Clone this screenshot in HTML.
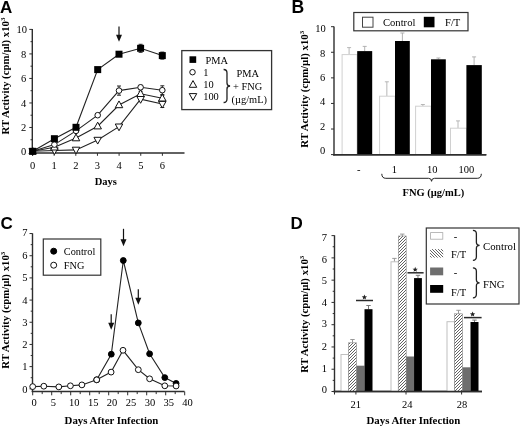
<!DOCTYPE html>
<html><head><meta charset="utf-8"><style>
html,body{margin:0;padding:0;background:#fff;width:520px;height:427px;overflow:hidden;}
svg{display:block;filter:blur(0.35px);}
</style></head><body>
<svg width="520" height="427" viewBox="0 0 520 427">
<rect width="520" height="427" fill="#fff"/>
<text x="0" y="12.5" font-size="17" text-anchor="start" font-family="Liberation Sans, sans-serif" font-weight="bold" >A</text>
<line x1="32.3" y1="29.0" x2="32.3" y2="153.8" stroke="#2e2e2e" stroke-width="1.4"/>
<line x1="29.299999999999997" y1="152.0" x2="32.3" y2="152.0" stroke="#2e2e2e" stroke-width="1"/>
<line x1="30.499999999999996" y1="139.74" x2="32.3" y2="139.74" stroke="#2e2e2e" stroke-width="1"/>
<line x1="29.299999999999997" y1="127.48" x2="32.3" y2="127.48" stroke="#2e2e2e" stroke-width="1"/>
<line x1="30.499999999999996" y1="115.22" x2="32.3" y2="115.22" stroke="#2e2e2e" stroke-width="1"/>
<line x1="29.299999999999997" y1="102.96000000000001" x2="32.3" y2="102.96000000000001" stroke="#2e2e2e" stroke-width="1"/>
<line x1="30.499999999999996" y1="90.7" x2="32.3" y2="90.7" stroke="#2e2e2e" stroke-width="1"/>
<line x1="29.299999999999997" y1="78.44" x2="32.3" y2="78.44" stroke="#2e2e2e" stroke-width="1"/>
<line x1="30.499999999999996" y1="66.18" x2="32.3" y2="66.18" stroke="#2e2e2e" stroke-width="1"/>
<line x1="29.299999999999997" y1="53.92" x2="32.3" y2="53.92" stroke="#2e2e2e" stroke-width="1"/>
<line x1="30.499999999999996" y1="41.66" x2="32.3" y2="41.66" stroke="#2e2e2e" stroke-width="1"/>
<line x1="29.299999999999997" y1="29.400000000000006" x2="32.3" y2="29.400000000000006" stroke="#2e2e2e" stroke-width="1"/>
<text x="27.0" y="33.0" font-size="10.5" text-anchor="end" font-family="Liberation Serif, serif" >10</text>
<text x="26.2" y="57.800000000000004" font-size="10.5" text-anchor="end" font-family="Liberation Serif, serif" >8</text>
<text x="26.2" y="82.3" font-size="10.5" text-anchor="end" font-family="Liberation Serif, serif" >6</text>
<text x="26.2" y="106.69999999999999" font-size="10.5" text-anchor="end" font-family="Liberation Serif, serif" >4</text>
<text x="26.2" y="130.8" font-size="10.5" text-anchor="end" font-family="Liberation Serif, serif" >2</text>
<text x="26.2" y="155.2" font-size="10.5" text-anchor="end" font-family="Liberation Serif, serif" >0</text>
<line x1="31.499999999999996" y1="153.0" x2="184.5" y2="153.0" stroke="#2e2e2e" stroke-width="1.4"/>
<line x1="32.5" y1="153" x2="32.5" y2="155.8" stroke="#2e2e2e" stroke-width="1"/>
<text x="32.5" y="169.1" font-size="10.5" text-anchor="middle" font-family="Liberation Serif, serif" >0</text>
<line x1="54.15" y1="153" x2="54.15" y2="155.8" stroke="#2e2e2e" stroke-width="1"/>
<text x="54.15" y="169.1" font-size="10.5" text-anchor="middle" font-family="Liberation Serif, serif" >1</text>
<line x1="75.8" y1="153" x2="75.8" y2="155.8" stroke="#2e2e2e" stroke-width="1"/>
<text x="75.8" y="169.1" font-size="10.5" text-anchor="middle" font-family="Liberation Serif, serif" >2</text>
<line x1="97.44999999999999" y1="153" x2="97.44999999999999" y2="155.8" stroke="#2e2e2e" stroke-width="1"/>
<text x="97.44999999999999" y="169.1" font-size="10.5" text-anchor="middle" font-family="Liberation Serif, serif" >3</text>
<line x1="119.1" y1="153" x2="119.1" y2="155.8" stroke="#2e2e2e" stroke-width="1"/>
<text x="119.1" y="169.1" font-size="10.5" text-anchor="middle" font-family="Liberation Serif, serif" >4</text>
<line x1="140.75" y1="153" x2="140.75" y2="155.8" stroke="#2e2e2e" stroke-width="1"/>
<text x="140.75" y="169.1" font-size="10.5" text-anchor="middle" font-family="Liberation Serif, serif" >5</text>
<line x1="162.39999999999998" y1="153" x2="162.39999999999998" y2="155.8" stroke="#2e2e2e" stroke-width="1"/>
<text x="162.39999999999998" y="169.1" font-size="10.5" text-anchor="middle" font-family="Liberation Serif, serif" >6</text>
<text x="105.8" y="184.8" font-size="10.5" text-anchor="middle" font-family="Liberation Serif, serif" font-weight="bold" >Days</text>
<text x="0" y="0" transform="translate(8.6,76) rotate(-90)" font-size="10.75" text-anchor="middle" font-family="Liberation Serif, serif" font-weight="bold">RT Activity (cpm/µl) x10<tspan dy="-4" font-size="7">3</tspan></text>
<polyline points="32.7,151.3 54.4,150.5 76,149.9 97.7,140 119,126.7 140.6,99.2 162.3,104" fill="none" stroke="#222" stroke-width="1.1"/>
<polyline points="32.7,151.3 54.4,147.3 76,138.1 97.7,126.2 119,105 140.6,93.8 162.3,98.3" fill="none" stroke="#222" stroke-width="1.1"/>
<polyline points="32.7,151.3 54.4,144.6 76,130.9 97.7,115.2 119,90.6 140.6,87.3 162.3,90.2" fill="none" stroke="#222" stroke-width="1.1"/>
<polyline points="32.7,151.3 54.4,138.7 76,127.3 97.7,69.6 119,54.2 140.6,48.3 162.3,55.6" fill="none" stroke="#222" stroke-width="1.1"/>
<line x1="140.6" y1="44.3" x2="140.6" y2="52.3" stroke="#222" stroke-width="1"/>
<line x1="138.6" y1="44.3" x2="142.6" y2="44.3" stroke="#222" stroke-width="1"/>
<line x1="138.6" y1="52.3" x2="142.6" y2="52.3" stroke="#222" stroke-width="1"/>
<line x1="162.3" y1="52.1" x2="162.3" y2="59.1" stroke="#222" stroke-width="1"/>
<line x1="160.3" y1="52.1" x2="164.3" y2="52.1" stroke="#222" stroke-width="1"/>
<line x1="160.3" y1="59.1" x2="164.3" y2="59.1" stroke="#222" stroke-width="1"/>
<line x1="119" y1="86.0" x2="119" y2="95.19999999999999" stroke="#222" stroke-width="1"/>
<line x1="117" y1="86.0" x2="121" y2="86.0" stroke="#222" stroke-width="1"/>
<line x1="117" y1="95.19999999999999" x2="121" y2="95.19999999999999" stroke="#222" stroke-width="1"/>
<line x1="162.3" y1="85.8" x2="162.3" y2="94.60000000000001" stroke="#222" stroke-width="1"/>
<line x1="160.3" y1="85.8" x2="164.3" y2="85.8" stroke="#222" stroke-width="1"/>
<line x1="160.3" y1="94.60000000000001" x2="164.3" y2="94.60000000000001" stroke="#222" stroke-width="1"/>
<line x1="140.6" y1="85.3" x2="140.6" y2="89.3" stroke="#222" stroke-width="1"/>
<line x1="138.6" y1="85.3" x2="142.6" y2="85.3" stroke="#222" stroke-width="1"/>
<line x1="138.6" y1="89.3" x2="142.6" y2="89.3" stroke="#222" stroke-width="1"/>
<line x1="162.3" y1="95.3" x2="162.3" y2="101.3" stroke="#222" stroke-width="1"/>
<line x1="160.3" y1="95.3" x2="164.3" y2="95.3" stroke="#222" stroke-width="1"/>
<line x1="160.3" y1="101.3" x2="164.3" y2="101.3" stroke="#222" stroke-width="1"/>
<line x1="162.3" y1="100.5" x2="162.3" y2="107.5" stroke="#222" stroke-width="1"/>
<line x1="160.3" y1="100.5" x2="164.3" y2="100.5" stroke="#222" stroke-width="1"/>
<line x1="160.3" y1="107.5" x2="164.3" y2="107.5" stroke="#222" stroke-width="1"/>
<line x1="140.6" y1="91.3" x2="140.6" y2="96.3" stroke="#222" stroke-width="1"/>
<line x1="138.6" y1="91.3" x2="142.6" y2="91.3" stroke="#222" stroke-width="1"/>
<line x1="138.6" y1="96.3" x2="142.6" y2="96.3" stroke="#222" stroke-width="1"/>
<polygon points="32.70,155.35 28.95,148.60 36.45,148.60" fill="#fff" stroke="#111" stroke-width="1" stroke-linejoin="miter"/>
<polygon points="54.40,154.55 50.65,147.80 58.15,147.80" fill="#fff" stroke="#111" stroke-width="1" stroke-linejoin="miter"/>
<polygon points="76.00,153.95 72.25,147.20 79.75,147.20" fill="#fff" stroke="#111" stroke-width="1" stroke-linejoin="miter"/>
<polygon points="97.70,144.05 93.95,137.30 101.45,137.30" fill="#fff" stroke="#111" stroke-width="1" stroke-linejoin="miter"/>
<polygon points="119.00,130.75 115.25,124.00 122.75,124.00" fill="#fff" stroke="#111" stroke-width="1" stroke-linejoin="miter"/>
<polygon points="140.60,103.25 136.85,96.50 144.35,96.50" fill="#fff" stroke="#111" stroke-width="1" stroke-linejoin="miter"/>
<polygon points="162.30,108.05 158.55,101.30 166.05,101.30" fill="#fff" stroke="#111" stroke-width="1" stroke-linejoin="miter"/>
<polygon points="32.70,147.25 28.95,154.00 36.45,154.00" fill="#fff" stroke="#111" stroke-width="1" stroke-linejoin="miter"/>
<polygon points="54.40,143.25 50.65,150.00 58.15,150.00" fill="#fff" stroke="#111" stroke-width="1" stroke-linejoin="miter"/>
<polygon points="76.00,134.05 72.25,140.80 79.75,140.80" fill="#fff" stroke="#111" stroke-width="1" stroke-linejoin="miter"/>
<polygon points="97.70,122.15 93.95,128.90 101.45,128.90" fill="#fff" stroke="#111" stroke-width="1" stroke-linejoin="miter"/>
<polygon points="119.00,100.95 115.25,107.70 122.75,107.70" fill="#fff" stroke="#111" stroke-width="1" stroke-linejoin="miter"/>
<polygon points="140.60,89.75 136.85,96.50 144.35,96.50" fill="#fff" stroke="#111" stroke-width="1" stroke-linejoin="miter"/>
<polygon points="162.30,94.25 158.55,101.00 166.05,101.00" fill="#fff" stroke="#111" stroke-width="1" stroke-linejoin="miter"/>
<circle cx="32.7" cy="151.3" r="2.8" fill="#fff" stroke="#111" stroke-width="1"/>
<circle cx="54.4" cy="144.6" r="2.8" fill="#fff" stroke="#111" stroke-width="1"/>
<circle cx="76" cy="130.9" r="2.8" fill="#fff" stroke="#111" stroke-width="1"/>
<circle cx="97.7" cy="115.2" r="2.8" fill="#fff" stroke="#111" stroke-width="1"/>
<circle cx="119" cy="90.6" r="2.8" fill="#fff" stroke="#111" stroke-width="1"/>
<circle cx="140.6" cy="87.3" r="2.8" fill="#fff" stroke="#111" stroke-width="1"/>
<circle cx="162.3" cy="90.2" r="2.8" fill="#fff" stroke="#111" stroke-width="1"/>
<rect x="29.200000000000003" y="147.8" width="7" height="7" fill="#000" stroke="none" stroke-width="1"/>
<rect x="50.9" y="135.2" width="7" height="7" fill="#000" stroke="none" stroke-width="1"/>
<rect x="72.5" y="123.8" width="7" height="7" fill="#000" stroke="none" stroke-width="1"/>
<rect x="94.2" y="66.1" width="7" height="7" fill="#000" stroke="none" stroke-width="1"/>
<rect x="115.5" y="50.7" width="7" height="7" fill="#000" stroke="none" stroke-width="1"/>
<rect x="137.1" y="44.8" width="7" height="7" fill="#000" stroke="none" stroke-width="1"/>
<rect x="158.8" y="52.1" width="7" height="7" fill="#000" stroke="none" stroke-width="1"/>
<line x1="119" y1="26.5" x2="119" y2="35.8" stroke="#111" stroke-width="1.2"/>
<polygon points="116.0,34.8 122.0,34.8 119,41.8" fill="#111"/>
<rect x="181.8" y="50.6" width="89.8" height="59.0" fill="#fff" stroke="#333" stroke-width="1.3"/>
<rect x="189.5" y="56.3" width="6.7" height="6.6" fill="#000" stroke="none" stroke-width="1"/>
<text x="205.5" y="64.0" font-size="10.4" text-anchor="start" font-family="Liberation Serif, serif" >PMA</text>
<circle cx="192.5" cy="72.2" r="2.75" fill="#fff" stroke="#111" stroke-width="1"/>
<text x="203.2" y="76.3" font-size="10.4" text-anchor="start" font-family="Liberation Serif, serif" >1</text>
<polygon points="193.00,80.55 189.25,87.30 196.75,87.30" fill="#fff" stroke="#111" stroke-width="1" stroke-linejoin="miter"/>
<text x="203.2" y="88.0" font-size="10.4" text-anchor="start" font-family="Liberation Serif, serif" >10</text>
<polygon points="193.00,100.35 189.25,93.60 196.75,93.60" fill="#fff" stroke="#111" stroke-width="1" stroke-linejoin="miter"/>
<text x="203.2" y="100.2" font-size="10.4" text-anchor="start" font-family="Liberation Serif, serif" >100</text>
<path d="M223.6,69.5 Q226.98,69.5 226.98,73.0 L226.98,83.0 Q226.98,86.0 230.1,86.0 Q226.98,86.0 226.98,89.0 L226.98,99.0 Q226.98,102.5 223.6,102.5" fill="none" stroke="#222" stroke-width="1.3"/>
<text x="247.7" y="77.3" font-size="10.4" text-anchor="middle" font-family="Liberation Serif, serif" >PMA</text>
<text x="247.7" y="89.9" font-size="10.4" text-anchor="middle" font-family="Liberation Serif, serif" >+ FNG</text>
<text x="249.3" y="102.9" font-size="10.4" text-anchor="middle" font-family="Liberation Serif, serif" >(µg/mL)</text>
<text x="291.4" y="13.0" font-size="17.6" text-anchor="start" font-family="Liberation Sans, sans-serif" font-weight="bold" >B</text>
<line x1="334.0" y1="26.5" x2="334.0" y2="155.4" stroke="#2e2e2e" stroke-width="1.4"/>
<line x1="331.0" y1="154.6" x2="334.0" y2="154.6" stroke="#2e2e2e" stroke-width="1"/>
<line x1="331.0" y1="129.01999999999998" x2="334.0" y2="129.01999999999998" stroke="#2e2e2e" stroke-width="1"/>
<line x1="331.0" y1="103.44" x2="334.0" y2="103.44" stroke="#2e2e2e" stroke-width="1"/>
<line x1="331.0" y1="77.86" x2="334.0" y2="77.86" stroke="#2e2e2e" stroke-width="1"/>
<line x1="331.0" y1="52.28" x2="334.0" y2="52.28" stroke="#2e2e2e" stroke-width="1"/>
<line x1="331.0" y1="26.700000000000003" x2="334.0" y2="26.700000000000003" stroke="#2e2e2e" stroke-width="1"/>
<text x="325.8" y="32.0" font-size="10.5" text-anchor="end" font-family="Liberation Serif, serif" >10</text>
<text x="325.3" y="56.7" font-size="10.5" text-anchor="end" font-family="Liberation Serif, serif" >8</text>
<text x="325.3" y="81.1" font-size="10.5" text-anchor="end" font-family="Liberation Serif, serif" >6</text>
<text x="325.3" y="105.39999999999999" font-size="10.5" text-anchor="end" font-family="Liberation Serif, serif" >4</text>
<text x="325.3" y="129.6" font-size="10.5" text-anchor="end" font-family="Liberation Serif, serif" >2</text>
<text x="325.3" y="153.9" font-size="10.5" text-anchor="end" font-family="Liberation Serif, serif" >0</text>
<line x1="333.2" y1="154.8" x2="486.3" y2="154.8" stroke="#2e2e2e" stroke-width="1.4"/>
<text x="0" y="0" transform="translate(308.2,89.3) rotate(-90)" font-size="10.75" text-anchor="middle" font-family="Liberation Serif, serif" font-weight="bold">RT Activity (cpm/µl) x10<tspan dy="-4" font-size="7">3</tspan></text>
<line x1="349.1" y1="47.6" x2="349.1" y2="54.6" stroke="#b0b0b0" stroke-width="0.9"/>
<line x1="347.1" y1="47.6" x2="351.1" y2="47.6" stroke="#b0b0b0" stroke-width="0.9"/>
<rect x="342.1" y="54.6" width="15.0" height="100.0" fill="#fff" stroke="#d0d0d0" stroke-width="1"/>
<line x1="386.85" y1="81.8" x2="386.85" y2="96.2" stroke="#b0b0b0" stroke-width="0.9"/>
<line x1="384.85" y1="81.8" x2="388.85" y2="81.8" stroke="#b0b0b0" stroke-width="0.9"/>
<rect x="379.6" y="96.2" width="15.5" height="58.39999999999999" fill="#fff" stroke="#d0d0d0" stroke-width="1"/>
<line x1="422.85" y1="104.5" x2="422.85" y2="106.2" stroke="#b0b0b0" stroke-width="0.9"/>
<line x1="420.85" y1="104.5" x2="424.85" y2="104.5" stroke="#b0b0b0" stroke-width="0.9"/>
<rect x="415.6" y="106.2" width="15.5" height="48.39999999999999" fill="#fff" stroke="#d0d0d0" stroke-width="1"/>
<line x1="458.0" y1="120.9" x2="458.0" y2="128.2" stroke="#b0b0b0" stroke-width="0.9"/>
<line x1="456.0" y1="120.9" x2="460.0" y2="120.9" stroke="#b0b0b0" stroke-width="0.9"/>
<rect x="450.5" y="128.2" width="16.0" height="26.400000000000006" fill="#fff" stroke="#d0d0d0" stroke-width="1"/>
<line x1="364.7" y1="46.4" x2="364.7" y2="51.1" stroke="#aaa" stroke-width="0.9"/>
<line x1="362.7" y1="46.4" x2="366.7" y2="46.4" stroke="#aaa" stroke-width="0.9"/>
<rect x="357.2" y="51.1" width="15.0" height="103.8" fill="#000" stroke="none" stroke-width="1"/>
<line x1="402.4" y1="33.0" x2="402.4" y2="41.0" stroke="#aaa" stroke-width="0.9"/>
<line x1="400.4" y1="33.0" x2="404.4" y2="33.0" stroke="#aaa" stroke-width="0.9"/>
<rect x="395.0" y="41.0" width="14.800000000000011" height="113.89999999999999" fill="#000" stroke="none" stroke-width="1"/>
<line x1="438.4" y1="58.0" x2="438.4" y2="59.3" stroke="#aaa" stroke-width="0.9"/>
<line x1="436.4" y1="58.0" x2="440.4" y2="58.0" stroke="#aaa" stroke-width="0.9"/>
<rect x="431.0" y="59.3" width="14.800000000000011" height="95.6" fill="#000" stroke="none" stroke-width="1"/>
<line x1="474.1" y1="56.9" x2="474.1" y2="65.1" stroke="#aaa" stroke-width="0.9"/>
<line x1="472.1" y1="56.9" x2="476.1" y2="56.9" stroke="#aaa" stroke-width="0.9"/>
<rect x="466.4" y="65.1" width="15.400000000000034" height="89.8" fill="#000" stroke="none" stroke-width="1"/>
<line x1="333.2" y1="154.8" x2="486.3" y2="154.8" stroke="#2e2e2e" stroke-width="1.4"/>
<rect x="353.8" y="12.5" width="114.2" height="18.3" fill="#fff" stroke="#333" stroke-width="1.2"/>
<rect x="362.5" y="17.2" width="10.5" height="10" fill="#fff" stroke="#444" stroke-width="1"/>
<text x="383" y="25.6" font-size="10.6" text-anchor="start" font-family="Liberation Serif, serif" >Control</text>
<rect x="423.8" y="16.8" width="10.7" height="10.5" fill="#000" stroke="none" stroke-width="1"/>
<text x="445" y="25.6" font-size="10.6" text-anchor="start" font-family="Liberation Serif, serif" >F/T</text>
<text x="358.8" y="172.5" font-size="10.5" text-anchor="middle" font-family="Liberation Serif, serif" >-</text>
<text x="394.3" y="172.5" font-size="10.5" text-anchor="middle" font-family="Liberation Serif, serif" >1</text>
<text x="432.3" y="172.5" font-size="10.5" text-anchor="middle" font-family="Liberation Serif, serif" >10</text>
<text x="466.3" y="172.5" font-size="10.5" text-anchor="middle" font-family="Liberation Serif, serif" >100</text>
<path d="M381.8,173.8 Q381.8,178.3 385.8,178.3 L428.55,178.3 Q431.55,178.3 431.55,181.3 Q431.55,178.3 434.55,178.3 L477.3,178.3 Q481.3,178.3 481.3,173.8" fill="none" stroke="#222" stroke-width="1"/>
<text x="433.4" y="195.6" font-size="10.5" text-anchor="middle" font-family="Liberation Serif, serif" font-weight="bold" >FNG (µg/mL)</text>
<text x="0.5" y="229" font-size="17" text-anchor="start" font-family="Liberation Sans, sans-serif" font-weight="bold" >C</text>
<line x1="32.5" y1="233.3" x2="32.5" y2="392" stroke="#2e2e2e" stroke-width="1.4"/>
<line x1="29.5" y1="388.8" x2="32.5" y2="388.8" stroke="#2e2e2e" stroke-width="1"/>
<line x1="30.7" y1="377.71000000000004" x2="32.5" y2="377.71000000000004" stroke="#2e2e2e" stroke-width="1"/>
<line x1="29.5" y1="366.62" x2="32.5" y2="366.62" stroke="#2e2e2e" stroke-width="1"/>
<line x1="30.7" y1="355.53000000000003" x2="32.5" y2="355.53000000000003" stroke="#2e2e2e" stroke-width="1"/>
<line x1="29.5" y1="344.44" x2="32.5" y2="344.44" stroke="#2e2e2e" stroke-width="1"/>
<line x1="30.7" y1="333.35" x2="32.5" y2="333.35" stroke="#2e2e2e" stroke-width="1"/>
<line x1="29.5" y1="322.26" x2="32.5" y2="322.26" stroke="#2e2e2e" stroke-width="1"/>
<line x1="30.7" y1="311.17" x2="32.5" y2="311.17" stroke="#2e2e2e" stroke-width="1"/>
<line x1="29.5" y1="300.08000000000004" x2="32.5" y2="300.08000000000004" stroke="#2e2e2e" stroke-width="1"/>
<line x1="30.7" y1="288.99" x2="32.5" y2="288.99" stroke="#2e2e2e" stroke-width="1"/>
<line x1="29.5" y1="277.9" x2="32.5" y2="277.9" stroke="#2e2e2e" stroke-width="1"/>
<line x1="30.7" y1="266.81" x2="32.5" y2="266.81" stroke="#2e2e2e" stroke-width="1"/>
<line x1="29.5" y1="255.72000000000003" x2="32.5" y2="255.72000000000003" stroke="#2e2e2e" stroke-width="1"/>
<line x1="30.7" y1="244.63000000000002" x2="32.5" y2="244.63000000000002" stroke="#2e2e2e" stroke-width="1"/>
<line x1="29.5" y1="233.54000000000002" x2="32.5" y2="233.54000000000002" stroke="#2e2e2e" stroke-width="1"/>
<text x="27.5" y="393.0" font-size="10.5" text-anchor="end" font-family="Liberation Serif, serif" >0</text>
<text x="27.5" y="370.20000000000005" font-size="10.5" text-anchor="end" font-family="Liberation Serif, serif" >1</text>
<text x="27.5" y="348.0" font-size="10.5" text-anchor="end" font-family="Liberation Serif, serif" >2</text>
<text x="27.5" y="325.8" font-size="10.5" text-anchor="end" font-family="Liberation Serif, serif" >3</text>
<text x="27.5" y="303.6" font-size="10.5" text-anchor="end" font-family="Liberation Serif, serif" >4</text>
<text x="27.5" y="281.20000000000005" font-size="10.5" text-anchor="end" font-family="Liberation Serif, serif" >5</text>
<text x="27.5" y="258.6" font-size="10.5" text-anchor="end" font-family="Liberation Serif, serif" >6</text>
<text x="27.5" y="236.2" font-size="10.5" text-anchor="end" font-family="Liberation Serif, serif" >7</text>
<line x1="31.7" y1="391.5" x2="184.5" y2="391.5" stroke="#2e2e2e" stroke-width="1.4"/>
<line x1="32.7" y1="391.5" x2="32.7" y2="395.3" stroke="#2e2e2e" stroke-width="1"/>
<line x1="42.2" y1="391.5" x2="42.2" y2="394.1" stroke="#2e2e2e" stroke-width="1"/>
<line x1="51.7" y1="391.5" x2="51.7" y2="395.3" stroke="#2e2e2e" stroke-width="1"/>
<line x1="61.2" y1="391.5" x2="61.2" y2="394.1" stroke="#2e2e2e" stroke-width="1"/>
<line x1="70.7" y1="391.5" x2="70.7" y2="395.3" stroke="#2e2e2e" stroke-width="1"/>
<line x1="80.2" y1="391.5" x2="80.2" y2="394.1" stroke="#2e2e2e" stroke-width="1"/>
<line x1="89.7" y1="391.5" x2="89.7" y2="395.3" stroke="#2e2e2e" stroke-width="1"/>
<line x1="99.2" y1="391.5" x2="99.2" y2="394.1" stroke="#2e2e2e" stroke-width="1"/>
<line x1="108.7" y1="391.5" x2="108.7" y2="395.3" stroke="#2e2e2e" stroke-width="1"/>
<line x1="118.2" y1="391.5" x2="118.2" y2="394.1" stroke="#2e2e2e" stroke-width="1"/>
<line x1="127.7" y1="391.5" x2="127.7" y2="395.3" stroke="#2e2e2e" stroke-width="1"/>
<line x1="137.2" y1="391.5" x2="137.2" y2="394.1" stroke="#2e2e2e" stroke-width="1"/>
<line x1="146.7" y1="391.5" x2="146.7" y2="395.3" stroke="#2e2e2e" stroke-width="1"/>
<line x1="156.2" y1="391.5" x2="156.2" y2="394.1" stroke="#2e2e2e" stroke-width="1"/>
<line x1="165.7" y1="391.5" x2="165.7" y2="395.3" stroke="#2e2e2e" stroke-width="1"/>
<line x1="175.2" y1="391.5" x2="175.2" y2="394.1" stroke="#2e2e2e" stroke-width="1"/>
<line x1="184.7" y1="391.5" x2="184.7" y2="395.3" stroke="#2e2e2e" stroke-width="1"/>
<text x="34.2" y="405.90000000000003" font-size="10.5" text-anchor="middle" font-family="Liberation Serif, serif" >0</text>
<text x="53.3" y="405.90000000000003" font-size="10.5" text-anchor="middle" font-family="Liberation Serif, serif" >5</text>
<text x="74.2" y="405.90000000000003" font-size="10.5" text-anchor="middle" font-family="Liberation Serif, serif" >10</text>
<text x="93.25" y="405.90000000000003" font-size="10.5" text-anchor="middle" font-family="Liberation Serif, serif" >15</text>
<text x="112.1" y="405.90000000000003" font-size="10.5" text-anchor="middle" font-family="Liberation Serif, serif" >20</text>
<text x="131.1" y="405.90000000000003" font-size="10.5" text-anchor="middle" font-family="Liberation Serif, serif" >25</text>
<text x="149.9" y="405.90000000000003" font-size="10.5" text-anchor="middle" font-family="Liberation Serif, serif" >30</text>
<text x="168.7" y="405.90000000000003" font-size="10.5" text-anchor="middle" font-family="Liberation Serif, serif" >35</text>
<text x="187.5" y="405.90000000000003" font-size="10.5" text-anchor="middle" font-family="Liberation Serif, serif" >40</text>
<text x="111.5" y="424.3" font-size="10.85" text-anchor="middle" font-family="Liberation Serif, serif" font-weight="bold" >Days After Infection</text>
<text x="0" y="0" transform="translate(8.6,310.2) rotate(-90)" font-size="10.75" text-anchor="middle" font-family="Liberation Serif, serif" font-weight="bold">RT Activity (cpm/µl) x10<tspan dy="-4" font-size="7">3</tspan></text>
<polyline points="96.7,379.8 111.3,354.2 123.3,260.5 138.3,322.9 149.6,353.8 164.8,377.6 176.1,383.4" fill="none" stroke="#222" stroke-width="1.1"/>
<polyline points="32.7,386.6 43.8,386.2 58.8,386.9 70.4,385.8 81.9,384.9 96.7,379.8 111.1,372.1 123.0,350.3 138.3,369.7 149.6,378.8 164.8,385.8 176.1,386" fill="none" stroke="#222" stroke-width="1.1"/>
<circle cx="96.7" cy="379.8" r="2.9" fill="#000" stroke="#000" stroke-width="1"/>
<circle cx="111.3" cy="354.2" r="2.9" fill="#000" stroke="#000" stroke-width="1"/>
<circle cx="123.3" cy="260.5" r="2.9" fill="#000" stroke="#000" stroke-width="1"/>
<circle cx="138.3" cy="322.9" r="2.9" fill="#000" stroke="#000" stroke-width="1"/>
<circle cx="149.6" cy="353.8" r="2.9" fill="#000" stroke="#000" stroke-width="1"/>
<circle cx="164.8" cy="377.6" r="2.9" fill="#000" stroke="#000" stroke-width="1"/>
<circle cx="176.1" cy="383.4" r="2.9" fill="#000" stroke="#000" stroke-width="1"/>
<circle cx="32.7" cy="386.6" r="2.9" fill="#fff" stroke="#111" stroke-width="1"/>
<circle cx="43.8" cy="386.2" r="2.9" fill="#fff" stroke="#111" stroke-width="1"/>
<circle cx="58.8" cy="386.9" r="2.9" fill="#fff" stroke="#111" stroke-width="1"/>
<circle cx="70.4" cy="385.8" r="2.9" fill="#fff" stroke="#111" stroke-width="1"/>
<circle cx="81.9" cy="384.9" r="2.9" fill="#fff" stroke="#111" stroke-width="1"/>
<circle cx="96.7" cy="379.8" r="2.9" fill="#fff" stroke="#111" stroke-width="1"/>
<circle cx="111.1" cy="372.1" r="2.9" fill="#fff" stroke="#111" stroke-width="1"/>
<circle cx="123.0" cy="350.3" r="2.9" fill="#fff" stroke="#111" stroke-width="1"/>
<circle cx="138.3" cy="369.7" r="2.9" fill="#fff" stroke="#111" stroke-width="1"/>
<circle cx="149.6" cy="378.8" r="2.9" fill="#fff" stroke="#111" stroke-width="1"/>
<circle cx="164.8" cy="385.8" r="2.9" fill="#fff" stroke="#111" stroke-width="1"/>
<circle cx="176.1" cy="386" r="2.9" fill="#fff" stroke="#111" stroke-width="1"/>
<line x1="123.5" y1="228.8" x2="123.5" y2="240.3" stroke="#111" stroke-width="1.2"/>
<polygon points="120.5,239.3 126.5,239.3 123.5,246.3" fill="#111"/>
<line x1="138.3" y1="289.3" x2="138.3" y2="298.8" stroke="#111" stroke-width="1.2"/>
<polygon points="135.3,297.8 141.3,297.8 138.3,304.8" fill="#111"/>
<line x1="111.2" y1="314.3" x2="111.2" y2="323.8" stroke="#111" stroke-width="1.2"/>
<polygon points="108.2,322.8 114.2,322.8 111.2,329.8" fill="#111"/>
<rect x="43.3" y="239.0" width="57.5" height="36.2" fill="#fff" stroke="#333" stroke-width="1.2"/>
<circle cx="53.7" cy="251.2" r="3.0" fill="#000" stroke="#000" stroke-width="1"/>
<text x="63.8" y="255.3" font-size="10.3" text-anchor="start" font-family="Liberation Serif, serif" >Control</text>
<circle cx="53.7" cy="265.2" r="3.0" fill="#fff" stroke="#111" stroke-width="1"/>
<text x="63.8" y="269.0" font-size="10.3" text-anchor="start" font-family="Liberation Serif, serif" >FNG</text>
<text x="290.5" y="228.8" font-size="17" text-anchor="start" font-family="Liberation Sans, sans-serif" font-weight="bold" >D</text>
<line x1="334.5" y1="235.3" x2="334.5" y2="392.3" stroke="#2e2e2e" stroke-width="1.4"/>
<line x1="331.5" y1="391.5" x2="334.5" y2="391.5" stroke="#2e2e2e" stroke-width="1"/>
<line x1="332.7" y1="380.365" x2="334.5" y2="380.365" stroke="#2e2e2e" stroke-width="1"/>
<line x1="331.5" y1="369.23" x2="334.5" y2="369.23" stroke="#2e2e2e" stroke-width="1"/>
<line x1="332.7" y1="358.095" x2="334.5" y2="358.095" stroke="#2e2e2e" stroke-width="1"/>
<line x1="331.5" y1="346.96" x2="334.5" y2="346.96" stroke="#2e2e2e" stroke-width="1"/>
<line x1="332.7" y1="335.825" x2="334.5" y2="335.825" stroke="#2e2e2e" stroke-width="1"/>
<line x1="331.5" y1="324.69" x2="334.5" y2="324.69" stroke="#2e2e2e" stroke-width="1"/>
<line x1="332.7" y1="313.555" x2="334.5" y2="313.555" stroke="#2e2e2e" stroke-width="1"/>
<line x1="331.5" y1="302.42" x2="334.5" y2="302.42" stroke="#2e2e2e" stroke-width="1"/>
<line x1="332.7" y1="291.28499999999997" x2="334.5" y2="291.28499999999997" stroke="#2e2e2e" stroke-width="1"/>
<line x1="331.5" y1="280.15" x2="334.5" y2="280.15" stroke="#2e2e2e" stroke-width="1"/>
<line x1="332.7" y1="269.015" x2="334.5" y2="269.015" stroke="#2e2e2e" stroke-width="1"/>
<line x1="331.5" y1="257.88" x2="334.5" y2="257.88" stroke="#2e2e2e" stroke-width="1"/>
<line x1="332.7" y1="246.745" x2="334.5" y2="246.745" stroke="#2e2e2e" stroke-width="1"/>
<line x1="331.5" y1="235.61" x2="334.5" y2="235.61" stroke="#2e2e2e" stroke-width="1"/>
<text x="327" y="393.40000000000003" font-size="10.5" text-anchor="end" font-family="Liberation Serif, serif" >0</text>
<text x="327" y="372.0" font-size="10.5" text-anchor="end" font-family="Liberation Serif, serif" >1</text>
<text x="327" y="349.90000000000003" font-size="10.5" text-anchor="end" font-family="Liberation Serif, serif" >2</text>
<text x="327" y="327.40000000000003" font-size="10.5" text-anchor="end" font-family="Liberation Serif, serif" >3</text>
<text x="327" y="305.6" font-size="10.5" text-anchor="end" font-family="Liberation Serif, serif" >4</text>
<text x="327" y="284.3" font-size="10.5" text-anchor="end" font-family="Liberation Serif, serif" >5</text>
<text x="327" y="262.6" font-size="10.5" text-anchor="end" font-family="Liberation Serif, serif" >6</text>
<text x="327" y="240.9" font-size="10.5" text-anchor="end" font-family="Liberation Serif, serif" >7</text>
<line x1="333.7" y1="391.5" x2="482" y2="391.5" stroke="#2e2e2e" stroke-width="1.4"/>
<line x1="334.5" y1="391.5" x2="334.5" y2="394.5" stroke="#2e2e2e" stroke-width="1"/>
<line x1="355.9" y1="391.5" x2="355.9" y2="394.5" stroke="#2e2e2e" stroke-width="1"/>
<line x1="406.0" y1="391.5" x2="406.0" y2="394.5" stroke="#2e2e2e" stroke-width="1"/>
<line x1="461.6" y1="391.5" x2="461.6" y2="394.5" stroke="#2e2e2e" stroke-width="1"/>
<text x="355.7" y="408.40000000000003" font-size="10.5" text-anchor="middle" font-family="Liberation Serif, serif" >21</text>
<text x="407.2" y="408.40000000000003" font-size="10.5" text-anchor="middle" font-family="Liberation Serif, serif" >24</text>
<text x="461.9" y="408.40000000000003" font-size="10.5" text-anchor="middle" font-family="Liberation Serif, serif" >28</text>
<text x="413.4" y="424.3" font-size="10.85" text-anchor="middle" font-family="Liberation Serif, serif" font-weight="bold" >Days After Infection</text>
<text x="0" y="0" transform="translate(308.2,314.2) rotate(-90)" font-size="10.75" text-anchor="middle" font-family="Liberation Serif, serif" font-weight="bold">RT Activity (cpm/µl) x10<tspan dy="-4" font-size="7">3</tspan></text>
<defs><pattern id="hatch" patternUnits="userSpaceOnUse" x="0" y="0" width="3" height="3"><rect width="3" height="3" fill="#fff"/><path d="M-1,1 L1,-1 M0,3 L3,0 M2,4 L4,2" stroke="#3a3a3a" stroke-width="0.8"/></pattern><pattern id="hatch2" patternUnits="userSpaceOnUse" x="0" y="0" width="3" height="3"><rect width="3" height="3" fill="#fff"/><path d="M-1,2 L1,4 M0,0 L3,3 M2,-1 L4,1" stroke="#3a3a3a" stroke-width="0.8"/></pattern></defs>
<rect x="341.0" y="354.5" width="7.5" height="37.0" fill="#fff" stroke="#c0c0c0" stroke-width="1"/>
<line x1="352.5" y1="339.5" x2="352.5" y2="342.8" stroke="#999" stroke-width="1"/>
<line x1="350.3" y1="339.5" x2="354.7" y2="339.5" stroke="#999" stroke-width="1"/>
<rect x="348.5" y="342.8" width="8.0" height="48.69999999999999" fill="url(#hatch)" stroke="#888" stroke-width="0.6"/>
<rect x="356.5" y="365.7" width="8.0" height="25.80000000000001" fill="#6e6e6e" stroke="none" stroke-width="1"/>
<line x1="368.5" y1="305.5" x2="368.5" y2="309.2" stroke="#777" stroke-width="1"/>
<line x1="366.3" y1="305.5" x2="370.7" y2="305.5" stroke="#777" stroke-width="1"/>
<rect x="364.5" y="309.2" width="8.0" height="82.30000000000001" fill="#000" stroke="none" stroke-width="1"/>
<line x1="394.425" y1="258.4" x2="394.425" y2="261.8" stroke="#999" stroke-width="1"/>
<line x1="392.225" y1="258.4" x2="396.625" y2="258.4" stroke="#999" stroke-width="1"/>
<rect x="391.0" y="261.8" width="7.35" height="129.7" fill="#fff" stroke="#c0c0c0" stroke-width="1"/>
<line x1="402.27500000000003" y1="234.1" x2="402.27500000000003" y2="236.0" stroke="#999" stroke-width="1"/>
<line x1="400.07500000000005" y1="234.1" x2="404.475" y2="234.1" stroke="#999" stroke-width="1"/>
<rect x="398.35" y="236.0" width="7.85" height="155.5" fill="url(#hatch)" stroke="#888" stroke-width="0.6"/>
<rect x="406.2" y="356.5" width="7.85" height="35.0" fill="#6e6e6e" stroke="none" stroke-width="1"/>
<line x1="417.975" y1="275.3" x2="417.975" y2="278.1" stroke="#777" stroke-width="1"/>
<line x1="415.77500000000003" y1="275.3" x2="420.175" y2="275.3" stroke="#777" stroke-width="1"/>
<rect x="414.05" y="278.1" width="7.85" height="113.39999999999998" fill="#000" stroke="none" stroke-width="1"/>
<rect x="447.0" y="321.7" width="7.5" height="69.80000000000001" fill="#fff" stroke="#c0c0c0" stroke-width="1"/>
<line x1="458.5" y1="310.3" x2="458.5" y2="313.8" stroke="#999" stroke-width="1"/>
<line x1="456.3" y1="310.3" x2="460.7" y2="310.3" stroke="#999" stroke-width="1"/>
<rect x="454.5" y="313.8" width="8.0" height="77.69999999999999" fill="url(#hatch)" stroke="#888" stroke-width="0.6"/>
<rect x="462.5" y="367.3" width="8.0" height="24.19999999999999" fill="#6e6e6e" stroke="none" stroke-width="1"/>
<line x1="474.5" y1="320.1" x2="474.5" y2="322.0" stroke="#777" stroke-width="1"/>
<line x1="472.3" y1="320.1" x2="476.7" y2="320.1" stroke="#777" stroke-width="1"/>
<rect x="470.5" y="322.0" width="8.0" height="69.5" fill="#000" stroke="none" stroke-width="1"/>
<line x1="333.7" y1="391.5" x2="482" y2="391.5" stroke="#2e2e2e" stroke-width="1.4"/>
<line x1="356" y1="300.5" x2="373" y2="300.5" stroke="#2a2a2a" stroke-width="1.5"/>
<polygon points="364.40,294.50 365.11,296.33 367.06,296.43 365.54,297.67 366.05,299.57 364.40,298.50 362.75,299.57 363.26,297.67 361.74,296.43 363.69,296.33" fill="#222"/>
<line x1="407.5" y1="272.8" x2="423.6" y2="272.8" stroke="#2a2a2a" stroke-width="1.5"/>
<polygon points="415.20,266.80 415.91,268.63 417.86,268.73 416.34,269.97 416.85,271.87 415.20,270.80 413.55,271.87 414.06,269.97 412.54,268.73 414.49,268.63" fill="#222"/>
<line x1="464" y1="317.6" x2="481.6" y2="317.6" stroke="#2a2a2a" stroke-width="1.5"/>
<polygon points="472.60,311.50 473.31,313.33 475.26,313.43 473.74,314.67 474.25,316.57 472.60,315.50 470.95,316.57 471.46,314.67 469.94,313.43 471.89,313.33" fill="#222"/>
<rect x="426.3" y="228.0" width="92.7" height="76.0" fill="#fff" stroke="#333" stroke-width="1.2"/>
<rect x="430.6" y="232.6" width="12.2" height="6.6" fill="#fff" stroke="#aaa" stroke-width="0.8"/>
<rect x="430.1" y="249.1" width="13.1" height="8.5" fill="url(#hatch2)" stroke="none" stroke-width="1"/>
<rect x="430.1" y="267.5" width="13.1" height="7.8" fill="#6e6e6e" stroke="none" stroke-width="1"/>
<rect x="430.1" y="285.0" width="13.1" height="7.8" fill="#000" stroke="none" stroke-width="1"/>
<text x="455.4" y="239.8" font-size="10.5" text-anchor="middle" font-family="Liberation Serif, serif" >-</text>
<text x="458.5" y="258.2" font-size="10.5" text-anchor="middle" font-family="Liberation Serif, serif" >F/T</text>
<text x="455.4" y="276.2" font-size="10.5" text-anchor="middle" font-family="Liberation Serif, serif" >-</text>
<text x="458.5" y="295.5" font-size="10.5" text-anchor="middle" font-family="Liberation Serif, serif" >F/T</text>
<path d="M472.9,230.3 Q476.38399999999996,230.3 476.38399999999996,233.8 L476.38399999999996,242.3 Q476.38399999999996,245.3 479.59999999999997,245.3 Q476.38399999999996,245.3 476.38399999999996,248.3 L476.38399999999996,256.8 Q476.38399999999996,260.3 472.9,260.3" fill="none" stroke="#222" stroke-width="1.3"/>
<path d="M472.9,267.8 Q476.38399999999996,267.8 476.38399999999996,271.3 L476.38399999999996,279.8 Q476.38399999999996,282.8 479.59999999999997,282.8 Q476.38399999999996,282.8 476.38399999999996,285.8 L476.38399999999996,294.3 Q476.38399999999996,297.8 472.9,297.8" fill="none" stroke="#222" stroke-width="1.3"/>
<text x="483.0" y="249.6" font-size="10.8" text-anchor="start" font-family="Liberation Serif, serif" >Control</text>
<text x="483.0" y="287.9" font-size="10.8" text-anchor="start" font-family="Liberation Serif, serif" >FNG</text>
</svg>
</body></html>
